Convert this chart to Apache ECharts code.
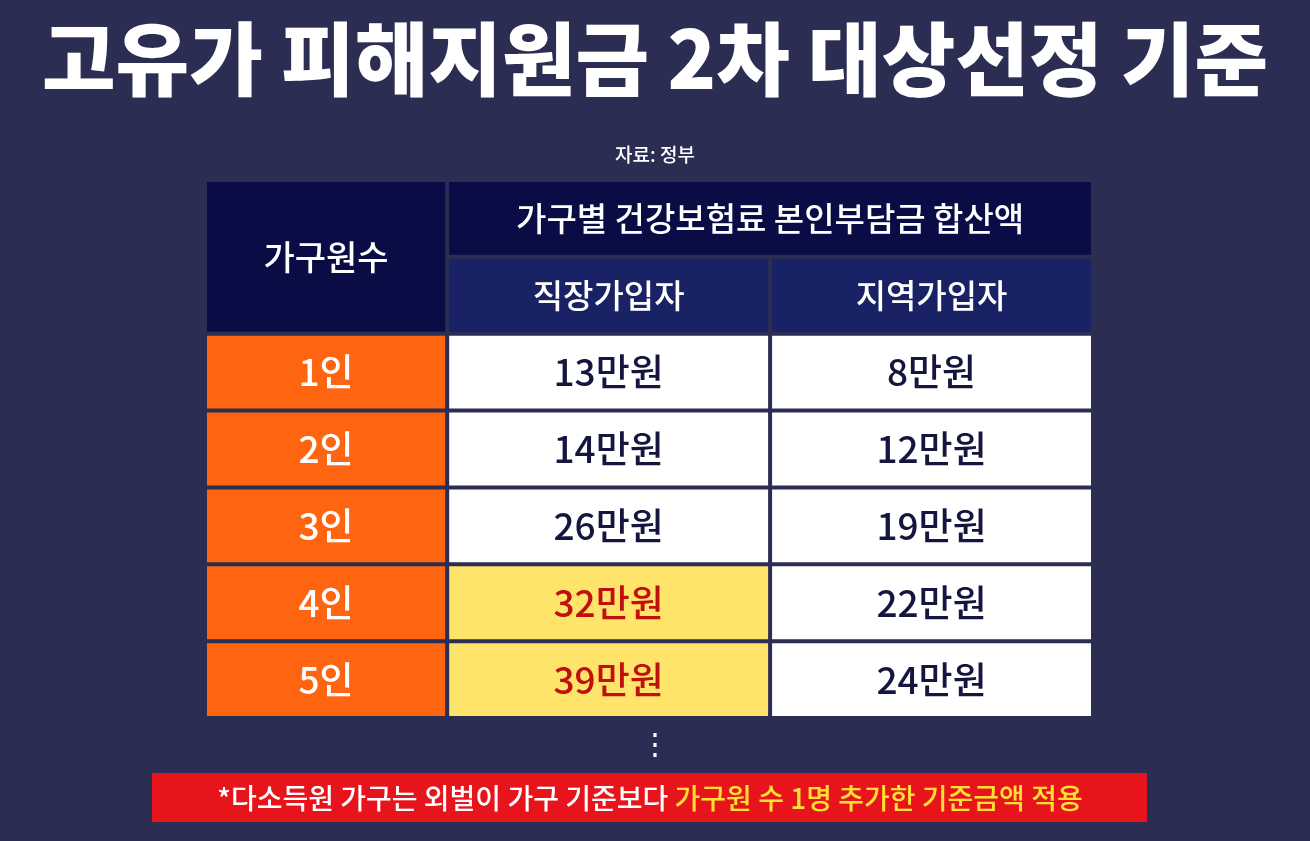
<!DOCTYPE html>
<html><head><meta charset="utf-8">
<script src="https://cdn.jsdelivr.net/npm/echarts@6/dist/echarts.min.js"></script>
<style>html,body{margin:0;background:#2b2e52}#c{width:1310px;height:841px}</style>
</head><body><div id="c"></div>
<script>
const title = '고유가 피해지원금 2차 대상선정 기준';
const source = '자료: 정부';
const groupHeader = '가구별 건강보험료 본인부담금 합산액';
const colHeaders = ['가구원수', '직장가입자', '지역가입자'];
const households = ['1인', '2인', '3인', '4인', '5인'];
const employee = [13, 14, 26, 32, 39];
const regional = [8, 12, 19, 22, 24];
const highlightRows = [3, 4];

const F = '"Noto Sans CJK KR", sans-serif';
const cols = [[0, 3], [3, 7], [7, 11]];
const cells = [];
function cell(c0, c1, r0, r1, fill, text, color, size) {
  cells.push([cols[c0][0], cols[c1][1], r0, r1, fill, text, color, size]);
}
cell(0, 0, 0, 2, '#0a0c45', colHeaders[0], '#fff', 34);
cell(1, 2, 0, 1, '#0a0c45', groupHeader, '#fff', 33);
cell(1, 1, 1, 2, '#1a2266', colHeaders[1], '#fff', 33);
cell(2, 2, 1, 2, '#1a2266', colHeaders[2], '#fff', 33);
households.forEach((h, i) => {
  const hi = highlightRows.includes(i);
  cell(0, 0, i + 2, i + 3, '#ff6410', h, '#fff', 37);
  cell(1, 1, i + 2, i + 3, hi ? '#ffe46c' : '#fff', employee[i] + '만원', hi ? '#c0100c' : '#15163f', 37);
  cell(2, 2, i + 2, i + 3, '#fff', regional[i] + '만원', '#15163f', 37);
});

const chart = echarts.init(document.getElementById('c'));
chart.setOption({
  backgroundColor: '#2b2e52',
  title: [
    { text: title, left: 'center', top: 14, textStyle: { color: '#fff', fontSize: 80, fontWeight: 900, fontFamily: F } },
    { text: source, left: 'center', top: 140, textStyle: { color: '#fff', fontSize: 19, fontWeight: 500, fontFamily: F } }
  ],
  grid: { left: 205, right: 217, top: 180, bottom: 123 },
  xAxis: { type: 'value', min: 0, max: 11, show: false },
  yAxis: { type: 'value', min: 0, max: 7, inverse: true, show: false },
  series: [{
    type: 'custom',
    data: cells,
    renderItem(params, api) {
      const p0 = api.coord([api.value(0), api.value(2)]);
      const p1 = api.coord([api.value(1), api.value(3)]);
      const d = cells[params.dataIndex];
      return {
        type: 'group',
        children: [
          { type: 'rect', shape: { x: p0[0] + 2, y: p0[1] + 2, width: p1[0] - p0[0] - 4, height: p1[1] - p0[1] - 4 }, style: { fill: d[4] } },
          { type: 'text', x: (p0[0] + p1[0]) / 2, y: (p0[1] + p1[1]) / 2,
            style: { text: d[5], fill: d[6], fontSize: d[7], fontWeight: 500, fontFamily: F, align: 'center', verticalAlign: 'middle' } }
        ]
      };
    }
  }],
  graphic: [
    { type: 'text', left: 'center', top: 728, style: { text: '⋮', fill: '#fff', fontSize: 30, fontFamily: F } },
    { type: 'rect', shape: { x: 152, y: 773, width: 995, height: 49 }, style: { fill: '#e8141b' } },
    { type: 'text', x: 650, y: 798, style: {
      text: '{w|*다소득원 가구는 외벌이 가구 기준보다 }{y|가구원 수 1명 추가한 기준금액 적용}',
      align: 'center', verticalAlign: 'middle',
      rich: { w: { fill: '#fff', fontSize: 28, fontWeight: 500, fontFamily: F }, y: { fill: '#ffe033', fontSize: 28, fontWeight: 500, fontFamily: F } }
    } }
  ]
});
</script></body></html>
